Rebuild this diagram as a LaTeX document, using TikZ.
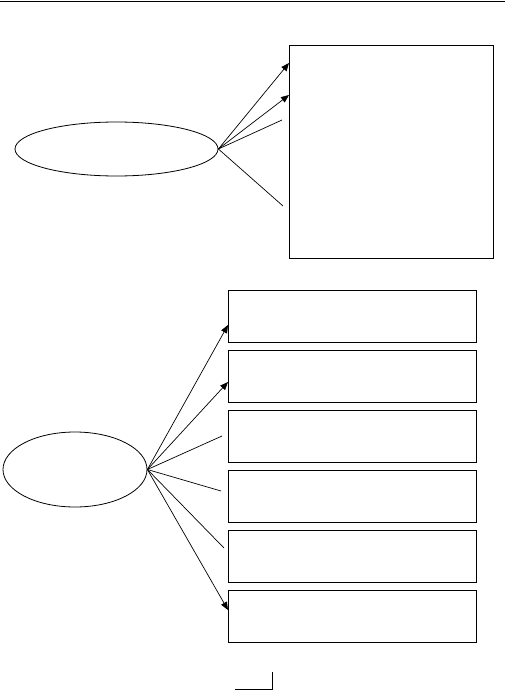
\documentclass[tikz,border=0pt]{standalone}
\usepackage{tikz}
\usetikzlibrary{arrows.meta, positioning, shapes.geometric}

\begin{document}
\begin{tikzpicture}[
        x=1pt, y=1pt,
        node distance=8pt,
        oval/.style={
            ellipse,
            draw,
            line width=0.8pt,
            inner sep=0pt
        },
        panel/.style={
            rectangle,
            draw,
            line width=1pt,
            inner sep=0pt,
            outer sep=0pt,
            minimum width=248pt,
            minimum height=52pt
        },
        arrow/.style={
            -{Triangle[length=8pt, width=6.5pt]},
            line width=0.7pt
        },
        link/.style={
            line width=0.7pt
        }
    ]

    \useasboundingbox (0,0) rectangle (507,-690);

    % Rule across the top
    \coordinate (ruleleft) at (0,-1.5);
    \coordinate (ruleright) at (505,-1.5);
    \draw[line width=1.8pt] (ruleleft) -- (ruleright);

    % Upper group
    \node[oval, minimum width=203pt, minimum height=54pt] (topoval)
        at (116.5,-149) {};

    \node[panel, minimum width=204pt, minimum height=212pt,
          anchor=north west] (toppanel) at (289,-46) {};

    \coordinate (topend1) at (282,-120);
    \coordinate (topend2) at (283,-206);

    \draw[arrow] (topoval.east) -- ([yshift=-17pt]toppanel.north west);
    \draw[arrow] (topoval.east) -- ([yshift=-49pt]toppanel.north west);
    \draw[link] (topoval.east) -- (topend1);
    \draw[link] (topoval.east) -- (topend2);

    % Lower group
    \node[oval, minimum width=144pt, minimum height=75pt] (lowoval)
        at (75,-469.5) {};

    \node[panel, anchor=north west] (box1) at (228,-290) {};
    \node[panel, below=of box1] (box2) {};
    \node[panel, below=of box2] (box3) {};
    \node[panel, below=of box3] (box4) {};
    \node[panel, below=of box4] (box5) {};
    \node[panel, below=of box5] (box6) {};

    \coordinate (lowend1) at (222,-436);
    \coordinate (lowend2) at (221,-491);
    \coordinate (lowend3) at (224,-548);

    \draw[arrow] (lowoval.east) -- ([yshift=-35pt]box1.north west);
    \draw[arrow] (lowoval.east) -- ([yshift=-32pt]box2.north west);
    \draw[link] (lowoval.east) -- (lowend1);
    \draw[link] (lowoval.east) -- (lowend2);
    \draw[link] (lowoval.east) -- (lowend3);
    \draw[arrow] (lowoval.east) -- ([yshift=-20pt]box6.north west);

    % Corner mark at the foot
    \draw[line width=1pt] (235,-689) -- (272,-689) -- (272,-672);

\end{tikzpicture}
\end{document}
